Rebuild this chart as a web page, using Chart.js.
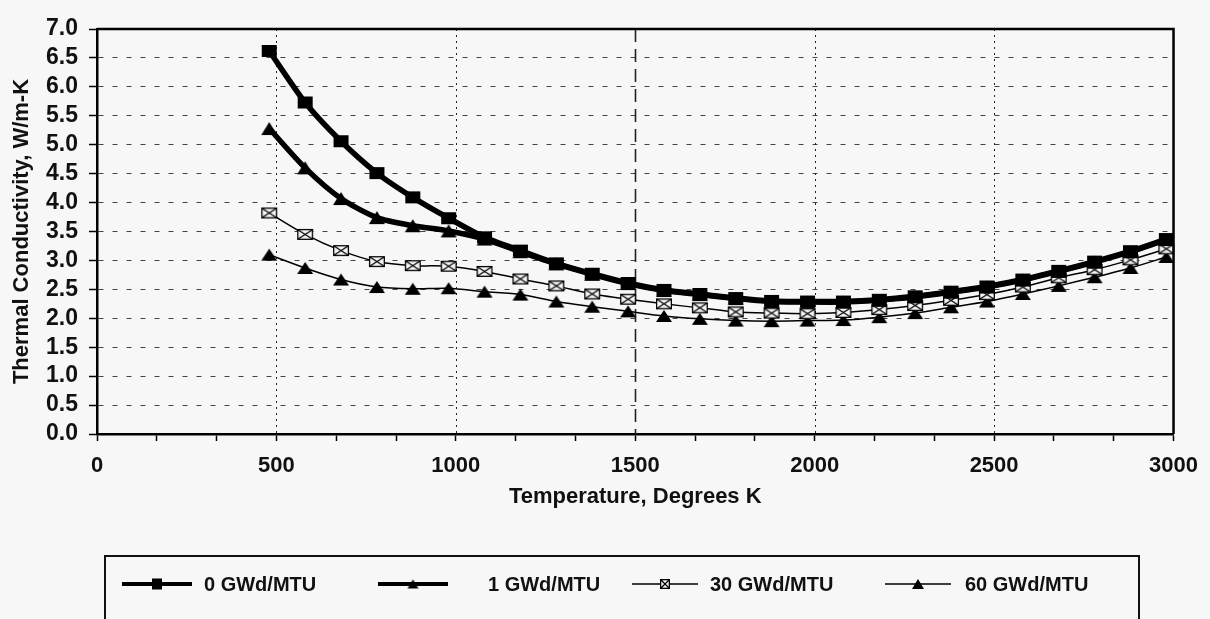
<!DOCTYPE html>
<html>
<head>
<meta charset="utf-8">
<script src="https://cdn.jsdelivr.net/npm/chart.js@4.4.0/dist/chart.umd.min.js"></script>
<style>
  html, body { margin: 0; padding: 0; background: #f7f7f7; }
  #wrap { position: relative; width: 1210px; height: 619px; overflow: hidden; }
  #c { position: absolute; left: 0; top: 0; }
  #legend {
    position: absolute; left: 104px; top: 555px; width: 1036px; height: 72px;
    border: 2px solid #111; box-sizing: border-box;
    font: bold 20px "Liberation Sans", Arial, sans-serif; color: #111;
  }
  .lg-sample { position: absolute; top: 27px; transform: translateY(-50%); }
  .lg-text { position: absolute; top: 27px; transform: translateY(-50%); white-space: nowrap; }
</style>
</head>
<body>
<div id="wrap">
  <canvas id="c" width="1210" height="619"></canvas>
  <div id="legend"></div>
</div>
<script>
// ---- data ----
const temperatureK = [480, 580, 680, 780, 880, 980, 1080, 1180, 1280, 1380, 1480, 1580, 1680,
                      1780, 1880, 1980, 2080, 2180, 2280, 2380, 2480, 2580, 2680, 2780, 2880, 2980];
const k0GWd  = [6.62, 5.73, 5.06, 4.51, 4.09, 3.73, 3.40, 3.17, 2.95, 2.77, 2.61, 2.49, 2.42,
                2.35, 2.30, 2.29, 2.29, 2.32, 2.38, 2.46, 2.55, 2.67, 2.82, 2.98, 3.16, 3.37];
const k1GWd  = [5.28, 4.60, 4.07, 3.74, 3.60, 3.51, 3.37, 3.15, 2.94, 2.76, 2.60, 2.48, 2.41,
                2.34, 2.29, 2.28, 2.28, 2.31, 2.37, 2.45, 2.54, 2.66, 2.81, 2.97, 3.15, 3.36];
const k30GWd = [3.82, 3.45, 3.17, 2.98, 2.91, 2.90, 2.81, 2.68, 2.56, 2.42, 2.33, 2.25, 2.18,
                2.11, 2.09, 2.08, 2.10, 2.15, 2.22, 2.31, 2.41, 2.54, 2.70, 2.84, 3.01, 3.20];
const k60GWd = [3.10, 2.87, 2.67, 2.54, 2.51, 2.52, 2.46, 2.41, 2.29, 2.20, 2.12, 2.04, 1.99,
                1.96, 1.95, 1.96, 1.97, 2.02, 2.09, 2.19, 2.29, 2.42, 2.56, 2.71, 2.87, 3.06];
const seriesLabels = ['0 GWd/MTU', '1 GWd/MTU', '30 GWd/MTU', '60 GWd/MTU'];
const xMajorTicks = [0, 500, 1000, 1500, 2000, 2500, 3000];
const yTickValues = [0, 0.5, 1, 1.5, 2, 2.5, 3, 3.5, 4, 4.5, 5, 5.5, 6, 6.5, 7];
const xTitle = 'Temperature, Degrees K';
const yTitle = 'Thermal Conductivity, W/m-K';

// ---- styles ----
const FONT = '"Liberation Sans", Arial, sans-serif';
Chart.defaults.font.family = FONT;
Chart.defaults.color = '#111';

function markerCanvas(kind, w, h, lw) {
  const pad = 2;
  const c = document.createElement('canvas');
  c.width = w + pad * 2; c.height = h + pad * 2;
  const g = c.getContext('2d');
  g.translate(pad, pad);
  g.fillStyle = '#000'; g.strokeStyle = '#000'; g.lineWidth = lw || 1.3;
  if (kind === 'square') {
    g.fillRect(0, 0, w, h);
  } else if (kind === 'tri') {
    g.beginPath(); g.moveTo(w / 2, 0); g.lineTo(w, h); g.lineTo(0, h); g.closePath(); g.fill();
  } else if (kind === 'xbox') {
    g.fillStyle = '#f7f7f7'; g.fillRect(0, 0, w, h);
    g.strokeRect(0.65, 0.65, w - 1.3, h - 1.3);
    g.beginPath(); g.moveTo(1, 1); g.lineTo(w - 1, h - 1); g.moveTo(w - 1, 1); g.lineTo(1, h - 1); g.stroke();
  }
  return c;
}

const seriesStyles = [
  { data: k0GWd,  width: 5.5, marker: markerCanvas('square', 15, 12), lg: markerCanvas('square', 10, 11), lgw: 4 },
  { data: k1GWd,  width: 5.5, marker: markerCanvas('tri', 16, 13),    lg: markerCanvas('tri', 11, 9),     lgw: 4 },
  { data: k30GWd, width: 1.5, marker: markerCanvas('xbox', 16, 11),   lg: markerCanvas('xbox', 10, 10),   lgw: 1.3 },
  { data: k60GWd, width: 1.5, marker: markerCanvas('tri', 16, 12),    lg: markerCanvas('tri', 12, 10),    lgw: 1.3 }
];

const datasets = seriesStyles.map((s, i) => ({
  label: seriesLabels[i],
  data: temperatureK.map((t, j) => ({ x: t, y: s.data[j] })),
  borderColor: '#000',
  backgroundColor: '#000',
  borderWidth: s.width,
  pointStyle: s.marker,
  pointRadius: 6,
  tension: 0.25,
  fill: false,
  clip: false
}));

const framePlugin = {
  id: 'frame',
  beforeDatasetsDraw(chart) {
    const { ctx, chartArea: a, scales: { x } } = chart;
    ctx.save();
    ctx.strokeStyle = '#222';
    xMajorTicks.forEach(v => {
      if (v === xMajorTicks[0] || v === xMajorTicks[xMajorTicks.length - 1]) return;
      const px = Math.round(x.getPixelForValue(v)) + 0.5;
      const longDash = v === 1500;
      ctx.setLineDash(longDash ? [13, 7] : [2, 4]);
      ctx.lineWidth = longDash ? 1.6 : 1;
      ctx.beginPath(); ctx.moveTo(px, a.top); ctx.lineTo(px, a.bottom); ctx.stroke();
    });
    ctx.restore();
  },
  afterDraw(chart) {
    const { ctx, chartArea: a } = chart;
    ctx.save();
    ctx.strokeStyle = '#000';
    ctx.lineWidth = 2.5;
    ctx.beginPath();
    ctx.moveTo(a.left, a.top); ctx.lineTo(a.right, a.top); ctx.lineTo(a.right, a.bottom);
    ctx.stroke();
    ctx.restore();
  }
};

const minorStep = (xMajorTicks[1] - xMajorTicks[0]) / 3;

new Chart(document.getElementById('c'), {
  type: 'line',
  data: { datasets },
  options: {
    responsive: false,
    animation: false,
    events: [],
    layout: { padding: { left: 0, right: 30, top: 29, bottom: 105 } },
    plugins: { legend: { display: false }, tooltip: { enabled: false } },
    scales: {
      x: {
        type: 'linear',
        min: xMajorTicks[0],
        max: xMajorTicks[xMajorTicks.length - 1],
        afterBuildTicks(axis) {
          const t = [];
          for (let v = axis.min; v <= axis.max + 1e-6; v += minorStep) t.push({ value: v });
          axis.ticks = t;
        },
        afterFit(scale) { scale.height = 80; },
        ticks: {
          autoSkip: false, maxRotation: 0, padding: 12,
          font: { size: 22, weight: 'bold' }, color: '#111',
          callback(v) {
            const r = Math.round(v);
            return xMajorTicks.includes(r) && Math.abs(v - r) < 1e-6 ? String(r) : '';
          }
        },
        grid: { drawOnChartArea: false, drawTicks: true, tickLength: 7, tickColor: '#000', tickWidth: 1.5 },
        border: { display: true, color: '#000', width: 2.5 },
        title: { display: true, text: xTitle, font: { size: 22, weight: 'bold' }, color: '#111', padding: { top: 4, bottom: 4 } }
      },
      y: {
        min: yTickValues[0],
        max: yTickValues[yTickValues.length - 1],
        afterBuildTicks(axis) { axis.ticks = yTickValues.map(v => ({ value: v })); },
        afterFit(scale) { scale.width = 97; },
        ticks: {
          autoSkip: false,
          padding: 11,
          font: { size: 23, weight: 'bold' }, color: '#111',
          callback(v) { return Number(v).toFixed(1); }
        },
        grid: { color: '#444', lineWidth: 1, drawTicks: true, tickLength: 8, tickColor: '#000', tickWidth: 1.5 },
        border: { display: true, color: '#000', width: 2.5, dash: [5, 9] },
        title: { display: true, text: yTitle, font: { size: 22, weight: 'bold' }, color: '#111', padding: { top: 9, bottom: 9 } }
      }
    }
  },
  plugins: [framePlugin]
});

// ---- legend (HTML, boxed, below chart) ----
const legendPos = [
  { sx: 16, sw: 70, tx: 98 },
  { sx: 272, sw: 70, tx: 382 },
  { sx: 526, sw: 66, tx: 604 },
  { sx: 779, sw: 66, tx: 859 }
];
const legendEl = document.getElementById('legend');
seriesStyles.forEach((s, i) => {
  const p = legendPos[i];
  const c = document.createElement('canvas');
  c.width = p.sw; c.height = 20; c.className = 'lg-sample'; c.style.left = p.sx + 'px';
  const g = c.getContext('2d');
  g.strokeStyle = '#000'; g.lineWidth = s.lgw;
  g.beginPath(); g.moveTo(0, 10); g.lineTo(p.sw, 10); g.stroke();
  g.drawImage(s.lg, p.sw / 2 - s.lg.width / 2, 10 - s.lg.height / 2);
  legendEl.appendChild(c);
  const t = document.createElement('div');
  t.className = 'lg-text'; t.style.left = p.tx + 'px'; t.textContent = seriesLabels[i];
  legendEl.appendChild(t);
});
</script>
</body>
</html>
